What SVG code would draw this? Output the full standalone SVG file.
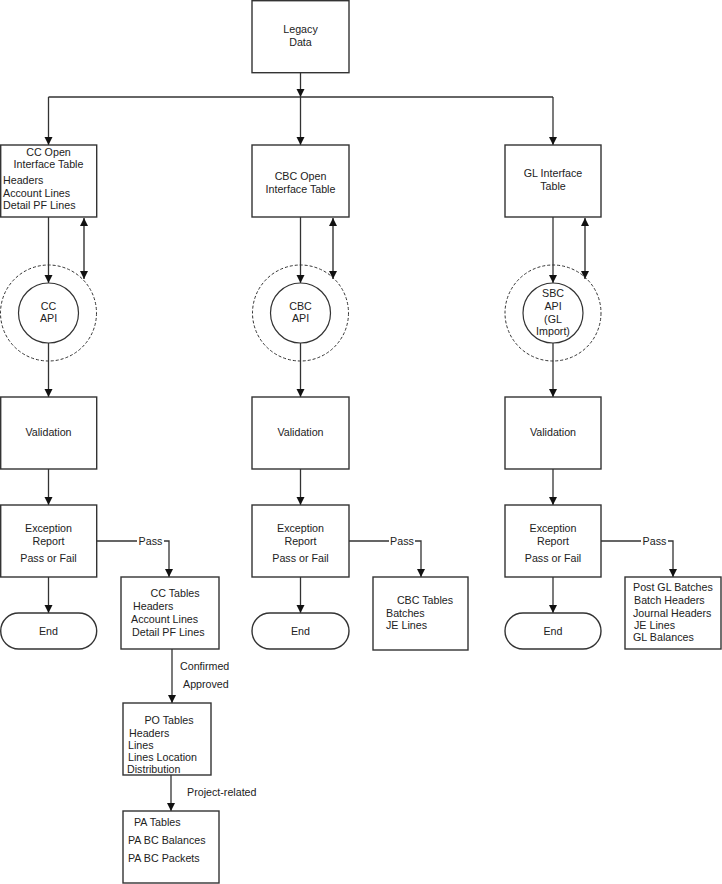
<svg xmlns="http://www.w3.org/2000/svg" width="722" height="884" viewBox="0 0 722 884">
<defs>
<marker id="ah" markerUnits="userSpaceOnUse" markerWidth="9" markerHeight="9" refX="8" refY="4" orient="auto">
<path d="M0,0 L8,4 L0,8 z" fill="#111"/>
</marker>
<marker id="ahs" markerUnits="userSpaceOnUse" markerWidth="9" markerHeight="9" refX="0" refY="4" orient="auto">
<path d="M8,0 L0,4 L8,8 z" fill="#111"/>
</marker>
<style>
.box{fill:#fff;stroke:#333;stroke-width:1.4}
.dash{fill:none;stroke:#333;stroke-width:1;stroke-dasharray:3,2}
.circ{fill:#fff;stroke:#333;stroke-width:1.2}
.ln{fill:none;stroke:#333;stroke-width:1.3}
.arr{fill:none;stroke:#333;stroke-width:1.3;marker-end:url(#ah)}
.bi{fill:none;stroke:#111;stroke-width:1.2;marker-end:url(#ah);marker-start:url(#ahs)}
text{font-family:"Liberation Sans",Arial,sans-serif;font-size:10.7px;fill:#222}
.c{text-anchor:middle}
.lb{fill:#fff;stroke:none}
</style>
</defs>

<g id="connectors">
<path class="arr" d="M300.5,73 V97"/>
<path class="ln" d="M48.5,97 H553"/>
<path class="arr" d="M48.5,97 V145"/>
<path class="arr" d="M300.5,97 V145"/>
<path class="arr" d="M553,97 V145"/>
<path class="arr" d="M48.5,217 V283"/>
<path class="arr" d="M300.5,217 V283"/>
<path class="arr" d="M553,217 V283"/>
<path class="bi" d="M84,218 V279"/>
<path class="bi" d="M333,218 V279"/>
<path class="bi" d="M585,218 V279"/>
<path class="arr" d="M48.5,343 V397"/>
<path class="arr" d="M300.5,343 V397"/>
<path class="arr" d="M553,343 V397"/>
<path class="arr" d="M48.5,469 V505"/>
<path class="arr" d="M300.5,469 V505"/>
<path class="arr" d="M553,469 V505"/>
<path class="arr" d="M48.5,577 V613"/>
<path class="arr" d="M300.5,577 V613"/>
<path class="arr" d="M553,577 V613"/>
<path class="arr" d="M97,541 H169 V577"/>
<path class="arr" d="M349,541 H421 V577"/>
<path class="arr" d="M601,541 H673 V577"/>
<path class="arr" d="M172,649 V703"/>
<path class="arr" d="M171,775 V811"/>
<rect class="lb" x="137" y="534" width="27" height="14"/>
<rect class="lb" x="389" y="534" width="26" height="14"/>
<rect class="lb" x="641" y="534" width="27" height="14"/>
<text class="c" x="150.5" y="545">Pass</text>
<text class="c" x="402" y="545">Pass</text>
<text class="c" x="654.5" y="545">Pass</text>
<text x="180" y="670">Confirmed</text>
<text x="183" y="688">Approved</text>
<text x="187" y="796">Project-related</text>
</g>

<g id="legacy">
<rect class="box" x="252" y="0.7" width="97" height="72"/>
<text class="c" x="300.5" y="33">Legacy</text>
<text class="c" x="300.5" y="46">Data</text>
</g>

<g id="cc-open">
<rect class="box" x="0.7" y="145" width="96" height="72"/>
<text class="c" x="48.5" y="155.5">CC Open</text>
<text class="c" x="48.5" y="168">Interface Table</text>
<text x="3" y="184">Headers</text>
<text x="3" y="197">Account Lines</text>
<text x="3" y="209">Detail PF Lines</text>
</g>

<g id="cbc-open">
<rect class="box" x="252" y="145" width="97" height="72"/>
<text class="c" x="300.5" y="180">CBC Open</text>
<text class="c" x="300.5" y="193">Interface Table</text>
</g>

<g id="gl-interface">
<rect class="box" x="505" y="145" width="96" height="72"/>
<text class="c" x="553" y="177">GL Interface</text>
<text class="c" x="553" y="190">Table</text>
</g>

<g id="cc-api">
<circle class="dash" cx="48.5" cy="313" r="48"/>
<circle class="circ" cx="48.5" cy="313" r="30"/>
<text class="c" x="48.5" y="310">CC</text>
<text class="c" x="48.5" y="322">API</text>
</g>

<g id="cbc-api">
<circle class="dash" cx="300.5" cy="313" r="48"/>
<circle class="circ" cx="300.5" cy="313" r="30"/>
<text class="c" x="300.5" y="310">CBC</text>
<text class="c" x="300.5" y="322">API</text>
</g>

<g id="sbc-api">
<circle class="dash" cx="553" cy="313" r="48"/>
<circle class="circ" cx="553" cy="313" r="30"/>
<text class="c" x="553" y="297">SBC</text>
<text class="c" x="553" y="310">API</text>
<text class="c" x="553" y="323">(GL</text>
<text class="c" x="553" y="335">Import)</text>
</g>

<g id="cc-validation">
<rect class="box" x="0.7" y="397" width="96" height="72"/>
<text class="c" x="48.5" y="436">Validation</text>
</g>
<g id="cbc-validation">
<rect class="box" x="252" y="397" width="97" height="72"/>
<text class="c" x="300.5" y="436">Validation</text>
</g>
<g id="gl-validation">
<rect class="box" x="505" y="397" width="96" height="72"/>
<text class="c" x="553" y="436">Validation</text>
</g>

<g id="cc-exception">
<rect class="box" x="0.7" y="505" width="96" height="72"/>
<text class="c" x="48.5" y="532">Exception</text>
<text class="c" x="48.5" y="545">Report</text>
<text class="c" x="48.5" y="562">Pass or Fail</text>
</g>
<g id="cbc-exception">
<rect class="box" x="252" y="505" width="97" height="72"/>
<text class="c" x="300.5" y="532">Exception</text>
<text class="c" x="300.5" y="545">Report</text>
<text class="c" x="300.5" y="562">Pass or Fail</text>
</g>
<g id="gl-exception">
<rect class="box" x="505" y="505" width="96" height="72"/>
<text class="c" x="553" y="532">Exception</text>
<text class="c" x="553" y="545">Report</text>
<text class="c" x="553" y="562">Pass or Fail</text>
</g>

<g id="cc-end">
<rect class="box" x="0.7" y="613" width="96" height="36" rx="18" ry="18"/>
<text class="c" x="48.5" y="635">End</text>
</g>
<g id="cbc-end">
<rect class="box" x="252" y="613" width="97" height="36" rx="18" ry="18"/>
<text class="c" x="300.5" y="635">End</text>
</g>
<g id="gl-end">
<rect class="box" x="505" y="613" width="96" height="36" rx="18" ry="18"/>
<text class="c" x="553" y="635">End</text>
</g>

<g id="cc-tables">
<rect class="box" x="121" y="577" width="98" height="72"/>
<text class="c" x="175" y="597">CC Tables</text>
<text x="133" y="610">Headers</text>
<text x="131" y="623">Account Lines</text>
<text x="132" y="636">Detail PF Lines</text>
</g>

<g id="cbc-tables">
<rect class="box" x="373" y="577" width="95" height="73"/>
<text class="c" x="425" y="604">CBC Tables</text>
<text x="386" y="617">Batches</text>
<text x="386" y="629">JE Lines</text>
</g>

<g id="gl-tables">
<rect class="box" x="625" y="577" width="96" height="72"/>
<text x="633" y="591">Post GL Batches</text>
<text x="634" y="604">Batch Headers</text>
<text x="633" y="617">Journal Headers</text>
<text x="634" y="629">JE Lines</text>
<text x="633" y="641">GL Balances</text>
</g>

<g id="po-tables">
<rect class="box" x="123" y="703" width="88" height="72"/>
<text class="c" x="169" y="724">PO Tables</text>
<text x="129" y="737">Headers</text>
<text x="128" y="749">Lines</text>
<text x="128" y="761">Lines Location</text>
<text x="127" y="773">Distribution</text>
</g>

<g id="pa-tables">
<rect class="box" x="123" y="811" width="96" height="72"/>
<text x="134" y="826">PA Tables</text>
<text x="128" y="844">PA BC Balances</text>
<text x="128" y="862">PA BC Packets</text>
</g>
</svg>
